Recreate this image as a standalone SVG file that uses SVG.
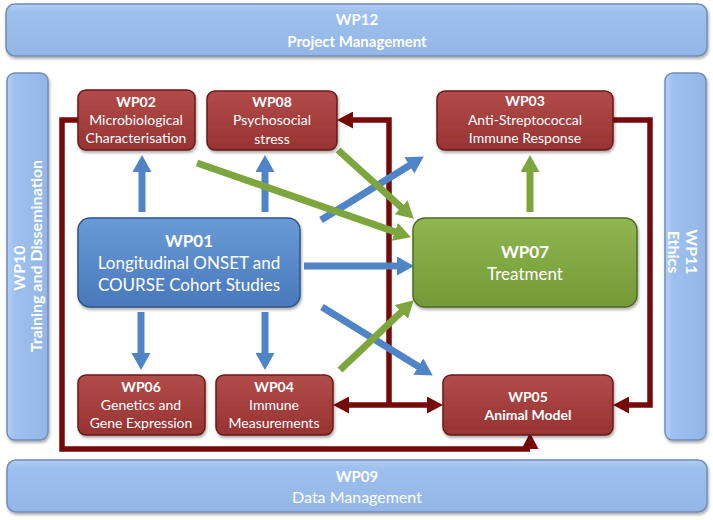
<svg xmlns="http://www.w3.org/2000/svg" width="713" height="520" viewBox="0 0 713 520">
<defs>
<linearGradient id="gBar" x1="0" y1="0" x2="0" y2="1"><stop offset="0" stop-color="#b3cff4"/><stop offset="0.15" stop-color="#9ec0ee"/><stop offset="1" stop-color="#93b6e6"/></linearGradient>
<linearGradient id="gBarV" x1="0" y1="0" x2="1" y2="0"><stop offset="0" stop-color="#b3cff4"/><stop offset="0.2" stop-color="#9ec0ee"/><stop offset="1" stop-color="#93b6e6"/></linearGradient>
<linearGradient id="gRed" x1="0" y1="0" x2="0" y2="1"><stop offset="0" stop-color="#b24c4a"/><stop offset="1" stop-color="#973331"/></linearGradient>
<linearGradient id="gBlue" x1="0" y1="0" x2="0" y2="1"><stop offset="0" stop-color="#6a9bd8"/><stop offset="1" stop-color="#4878bb"/></linearGradient>
<linearGradient id="gGreen" x1="0" y1="0" x2="0" y2="1"><stop offset="0" stop-color="#8fb651"/><stop offset="1" stop-color="#739a36"/></linearGradient>
<filter id="sh" x="-10%" y="-10%" width="120%" height="130%"><feDropShadow dx="1" dy="2" stdDeviation="1.5" flood-color="#000" flood-opacity="0.35"/></filter>
<marker id="aBlue" markerUnits="userSpaceOnUse" markerWidth="17" markerHeight="19" viewBox="0 0 17 19" refX="1" refY="9.5" orient="auto"><path d="M0,0 L17,9.5 L0,19 z" fill="#4f85c7"/></marker>
<marker id="aGreen" markerUnits="userSpaceOnUse" markerWidth="17" markerHeight="19" viewBox="0 0 17 19" refX="1" refY="9.5" orient="auto"><path d="M0,0 L17,9.5 L0,19 z" fill="#7ea63f"/></marker>
<marker id="aRed" markerUnits="userSpaceOnUse" markerWidth="16" markerHeight="17" viewBox="0 0 16 17" refX="1" refY="8.5" orient="auto"><path d="M0,0 L16,8.5 L0,17 z" fill="#760a0a"/></marker>
</defs>
<style>
text{font-family:Lato,"Open Sans","Liberation Sans",sans-serif;fill:#fff;text-anchor:middle}
.b{font-weight:bold}
.bar{fill:url(#gBar);stroke:#6f8dba;stroke-width:1.5;filter:url(#sh)}
.barv{fill:url(#gBarV);stroke:#6f8dba;stroke-width:1.5;filter:url(#sh)}
.red{fill:url(#gRed);stroke:#6a1a19;stroke-width:1.5;filter:url(#sh)}
.blue{fill:url(#gBlue);stroke:#2f5588;stroke-width:1.5;filter:url(#sh)}
.green{fill:url(#gGreen);stroke:#4f6b25;stroke-width:1.5;filter:url(#sh)}
.s{font-size:14px}
.m{font-size:17px}
.l{font-size:15px}
.cb{fill:none;stroke:#4f85c7;stroke-width:7;marker-end:url(#aBlue)}
.cg{fill:none;stroke:#7ea63f;stroke-width:7;marker-end:url(#aGreen)}
.cr{fill:none;stroke:#760a0a;stroke-width:5.5;stroke-linejoin:miter}
.cra{marker-end:url(#aRed)}
</style>

<g id="WP12"><rect class="bar" x="6" y="4" width="701" height="52" rx="9"/><text class="l b" x="357" y="25">WP12</text><text class="l b" x="357" y="47">Project Management</text></g>
<g id="WP10"><rect class="barv" x="7" y="73" width="41" height="367" rx="8"/><text class="l b" style="font-size:16px" transform="rotate(-90)" x="-268" y="25">WP10</text><text class="l b" style="font-size:16px" transform="rotate(-90)" x="-256" y="42">Training and Dissemination</text></g>
<g id="WP11"><rect class="barv" x="665" y="73" width="41" height="367" rx="8"/><text class="l b" style="font-size:16px" transform="rotate(90)" x="252" y="-686">WP11</text><text class="l b" style="font-size:16px" transform="rotate(90)" x="252" y="-668">Ethics</text></g>
<g id="WP09"><rect class="bar" x="7" y="460" width="700" height="52" rx="9"/><text class="l b" x="357" y="482">WP09</text><text class="l" style="font-size:16px" x="357" y="503">Data Management</text></g>

<g id="connectors">
<path class="cr" d="M78,120 H62 V449 H530"/>
<path class="cr cra" d="M530,449 V448"/>
<path class="cr cra" d="M389,405 V120 H352"/>
<path class="cr cra" d="M389,405 H348"/>
<path class="cr cra" d="M389,405 H428"/>
<path class="cr cra" d="M613,120 H650 V405 H628"/>
<path class="cb" d="M142,212 V171"/>
<path class="cb" d="M265,212 V171"/>
<path class="cb" d="M141,312 V354"/>
<path class="cb" d="M265,312 V354"/>
<path class="cb" d="M304,266 H398"/>
<path class="cb" d="M321,220 L410.2,164.9"/>
<path class="cb" d="M322,307 L419.2,367.1"/>
<path class="cg" d="M197,163 L395.8,232.1"/>
<path class="cg" d="M338,150 L401.9,207.9"/>
<path class="cg" d="M340,370 L402.1,311.3"/>
<path class="cg" d="M530,212 V171"/>
</g>

<g id="WP02"><rect class="red" x="78" y="90" width="117" height="60" rx="8"/><text class="s b" x="136" y="107">WP02</text><text class="s" x="136" y="125">Microbiological</text><text class="s" x="136" y="143">Characterisation</text></g>
<g id="WP08"><rect class="red" x="207" y="91" width="130" height="59" rx="8"/><text class="s b" x="272" y="107">WP08</text><text class="s" x="272" y="125">Psychosocial</text><text class="s" x="272" y="144">stress</text></g>
<g id="WP03"><rect class="red" x="437" y="91" width="176" height="59" rx="8"/><text class="s b" x="525" y="106">WP03</text><text class="s" x="525" y="125">Anti-Streptococcal</text><text class="s" x="525" y="143">Immune Response</text></g>
<g id="WP01"><rect class="blue" x="78" y="218" width="222" height="89" rx="12"/><text class="m b" x="189" y="247">WP01</text><text class="m" x="189" y="269">Longitudinal ONSET and</text><text class="m" x="189" y="291">COURSE Cohort Studies</text></g>
<g id="WP07"><rect class="green" x="413" y="218" width="224" height="89" rx="12"/><text class="m b" x="525" y="258">WP07</text><text class="m" x="525" y="280">Treatment</text></g>
<g id="WP06"><rect class="red" x="78" y="375" width="127" height="60" rx="8"/><text class="s b" x="141" y="392">WP06</text><text class="s" x="141" y="410">Genetics and</text><text class="s" x="141" y="428">Gene Expression</text></g>
<g id="WP04"><rect class="red" x="216" y="375" width="117" height="60" rx="8"/><text class="s b" x="274" y="392">WP04</text><text class="s" x="274" y="410">Immune</text><text class="s" x="274" y="428">Measurements</text></g>
<g id="WP05"><rect class="red" x="443" y="375" width="170" height="60" rx="8"/><text class="s b" x="528" y="402">WP05</text><text class="s b" x="528" y="420">Animal Model</text></g>
</svg>
